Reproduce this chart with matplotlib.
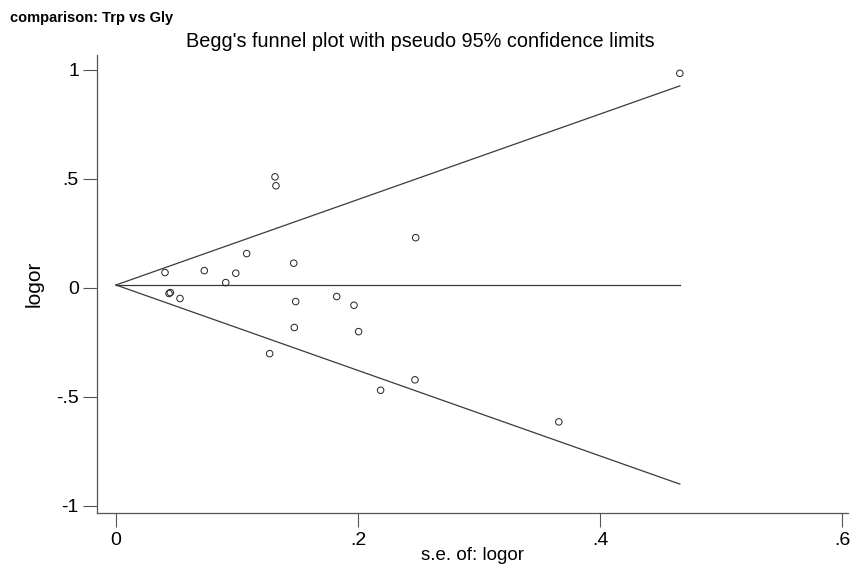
import numpy as np
import matplotlib
matplotlib.use("Agg")
import matplotlib.pyplot as plt

plt.rcParams["font.family"] = ["Liberation Sans", "DejaVu Sans"]

# study standard errors and log odds ratios
se = [0.1314, 0.1322, 0.0405, 0.073, 0.099, 0.108, 0.0907, 0.0438, 0.0449,
      0.0529, 0.127, 0.1469, 0.2477, 0.1485, 0.1824, 0.1967, 0.1474, 0.2005,
      0.2187, 0.2471, 0.466, 0.366]
logor = [0.508, 0.467, 0.069, 0.078, 0.066, 0.156, 0.023, -0.027, -0.023,
         -0.050, -0.303, 0.112, 0.229, -0.064, -0.041, -0.081, -0.183, -0.202,
         -0.471, -0.423, 0.983, -0.616]
pooled = 0.012
xticks = [0, 0.2, 0.4, 0.6]
xticklabels = ["0", ".2", ".4", ".6"]
yticks = [-1, -0.5, 0, 0.5, 1]
yticklabels = ["-1", "-.5", "0", ".5", "1"]

fig = plt.figure(figsize=(8.5, 5.7), dpi=100)
ax = fig.add_axes([97 / 850, 1 - 513 / 570, (848 - 97) / 850, (513 - 55) / 570])

smax = max(se)
grid = np.linspace(0, smax, 50)
lc = "#3a3a3a"
ax.plot(grid, pooled + 1.96 * grid, color=lc, lw=0.9)
ax.plot(grid, pooled - 1.96 * grid, color=lc, lw=0.9)
ax.plot([0, smax], [pooled, pooled], color=lc, lw=0.9)
ax.scatter(se, logor, s=22, facecolors="none", edgecolors="#222222", linewidths=0.7, zorder=3)

ax.set_xlim(-0.0157, 0.605)
ax.set_ylim(-1.034, 1.067)
ax.set_xticks(xticks)
ax.set_xticklabels(xticklabels)
ax.set_yticks(yticks)
ax.set_yticklabels(yticklabels)
ax.tick_params(length=10, width=0.8, colors="#555555", labelcolor="black", labelsize=14, pad=3)
ax.tick_params(axis="x", pad=4)
ax.spines["top"].set_visible(False)
ax.spines["right"].set_visible(False)
for s in ("left", "bottom"):
    ax.spines[s].set_color("#555555")
    ax.spines[s].set_linewidth(0.9)

ax.set_xlabel("s.e. of: logor", fontsize=13.5, labelpad=-2)
ax.set_ylabel("logor", fontsize=15, labelpad=9)
fig.text(0.494, 0.928, "Begg's funnel plot with pseudo 95% confidence limits",
         ha="center", va="center", fontsize=14.3)
fig.text(0.012, 0.969, "comparison: Trp vs Gly", ha="left", va="center",
         fontsize=10.5, fontweight="bold")

fig.savefig("out.png", dpi=100)
